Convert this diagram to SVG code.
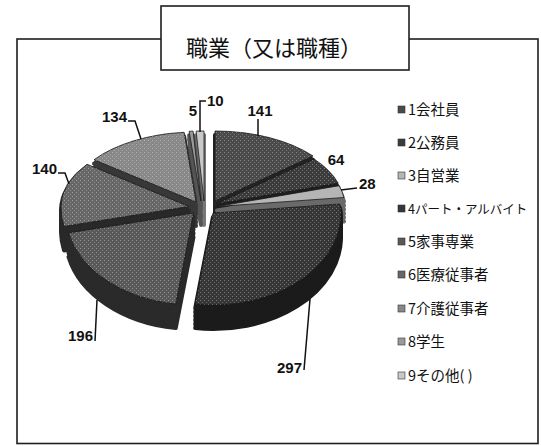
<svg xmlns="http://www.w3.org/2000/svg" xmlns:xlink="http://www.w3.org/1999/xlink" width="541" height="446" viewBox="0 0 541 446">
<style>
.frame{fill:none;stroke:#1e1e1e;stroke-width:1.6}
.tbox{fill:#fff;stroke:#1e1e1e;stroke-width:1.6}
.title{font-family:"Noto Sans CJK JP","Noto Sans CJK SC",sans-serif;font-size:22px;fill:#111}
.num{font-family:"Liberation Sans Narrow","Liberation Sans",sans-serif;font-weight:bold;font-size:15px;fill:#111}
.leg{font-family:"Noto Sans CJK JP","Noto Sans CJK SC",sans-serif;font-size:14.5px;fill:#111}
.legs{font-size:12.5px}
.lead{fill:none;stroke:#111;stroke-width:1.5}
.wall{stroke-width:4;stroke-linejoin:round}
.top{stroke:#1a1a1a;stroke-width:0.8;stroke-linejoin:round}
.tex{fill:url(#dots);stroke:none}
.mk{stroke:#333;stroke-width:0.6}
.c1{fill:#4a4a4a}.w1{fill:#242424;stroke:#242424}
.c2{fill:#3b3b3b}.w2{fill:#1e1e1e;stroke:#1e1e1e}
.c3{fill:#b5b5b5}.w3{fill:#6a6a6a;stroke:#6a6a6a}
.c4{fill:#363636}.w4{fill:#1b1b1b;stroke:#1b1b1b}
.c5{fill:#595959}.w5{fill:#2a2a2a;stroke:#2a2a2a}
.c6{fill:#676767}.w6{fill:#292929;stroke:#292929}
.c7{fill:#888}.w7{fill:#383838;stroke:#383838}
.c8{fill:#9a9a9a}.w8{fill:#555;stroke:#555}
.c9{fill:#c8c8c8}.w9{fill:#777;stroke:#777}
</style>
<defs>
<pattern id="dots" width="4" height="4" patternUnits="userSpaceOnUse">
<rect x="0" y="0" width="1" height="1" fill="#fff" opacity="0.35"/>
<rect x="2" y="2" width="1" height="1" fill="#fff" opacity="0.25"/>
</pattern>
<path id="p1" d="M215,201 L215,131 A128,70 0 0 1 313.06,156.01 Z"/>
<path id="p2" d="M216,204 L314.06,159.01 A128,70 0 0 1 338.21,183.2 Z"/>
<path id="p3" d="M217,206.5 L339.21,185.7 A128,70 0 0 1 343.95,197.53 Z"/>
<path id="p4" d="M213,213 L339.95,204.03 A128,70 0 0 1 341,213 A128,92 0 0 1 195.23,304.11 Z"/>
<path id="p5" d="M193.5,213 L175.73,304.11 A128,92 0 0 1 68.53,232.91 Z"/>
<path id="p6" d="M189,206.5 L64.03,226.41 A128,92 0 0 1 61,206.5 A128,70 0 0 1 87,164.23 Z"/>
<path id="p7" d="M196,202 L94,159.73 A128,70 0 0 1 184.13,132.3 Z"/>
<path id="p8" d="M201,201 L189.13,131.3 A128,70 0 0 1 193.08,131.13 Z"/>
<path id="p9" d="M204,201 L196.08,131.13 A128,70 0 0 1 204,131 Z"/>
</defs>
<rect x="0" y="0" width="541" height="446" fill="#fff"/>
<rect class="frame" x="17" y="39" width="521" height="404.5"/>
<g id="title">
<rect class="tbox" x="161" y="6" width="248" height="64"/>
<text class="title" x="186" y="56">職業（又は職種）</text>
</g>
<g id="slice-10">
<use xlink:href="#p9" class="wall w9" transform="translate(0,24)"/><use xlink:href="#p9" class="wall w9" transform="translate(0,16)"/><use xlink:href="#p9" class="wall w9" transform="translate(0,8)"/><use xlink:href="#p9" class="wall w9" transform="translate(0,4)"/>
<use xlink:href="#p9" class="top c9"/>
</g>
<g id="slice-5">
<use xlink:href="#p8" class="wall w8" transform="translate(0,24)"/><use xlink:href="#p8" class="wall w8" transform="translate(0,16)"/><use xlink:href="#p8" class="wall w8" transform="translate(0,8)"/><use xlink:href="#p8" class="wall w8" transform="translate(0,4)"/>
<use xlink:href="#p8" class="top c8"/>
</g>
<g id="slice-141">
<use xlink:href="#p1" class="wall w1" transform="translate(0,24)"/><use xlink:href="#p1" class="wall w1" transform="translate(0,20)"/><use xlink:href="#p1" class="wall w1" transform="translate(0,16)"/><use xlink:href="#p1" class="wall w1" transform="translate(0,12)"/><use xlink:href="#p1" class="wall w1" transform="translate(0,8)"/><use xlink:href="#p1" class="wall w1" transform="translate(0,4)"/>
<use xlink:href="#p1" class="top c1"/><use xlink:href="#p1" class="tex"/>
</g>
<g id="slice-134">
<use xlink:href="#p7" class="wall w7" transform="translate(0,24)"/><use xlink:href="#p7" class="wall w7" transform="translate(0,20)"/><use xlink:href="#p7" class="wall w7" transform="translate(0,16)"/><use xlink:href="#p7" class="wall w7" transform="translate(0,12)"/><use xlink:href="#p7" class="wall w7" transform="translate(0,8)"/><use xlink:href="#p7" class="wall w7" transform="translate(0,4)"/>
<use xlink:href="#p7" class="top c7"/><use xlink:href="#p7" class="tex"/>
</g>
<g id="slice-64">
<use xlink:href="#p2" class="wall w2" transform="translate(0,24)"/><use xlink:href="#p2" class="wall w2" transform="translate(0,20)"/><use xlink:href="#p2" class="wall w2" transform="translate(0,16)"/><use xlink:href="#p2" class="wall w2" transform="translate(0,12)"/><use xlink:href="#p2" class="wall w2" transform="translate(0,8)"/><use xlink:href="#p2" class="wall w2" transform="translate(0,4)"/>
<use xlink:href="#p2" class="top c2"/><use xlink:href="#p2" class="tex"/>
</g>
<g id="slice-140">
<use xlink:href="#p6" class="wall w6" transform="translate(0,24)"/><use xlink:href="#p6" class="wall w6" transform="translate(0,20)"/><use xlink:href="#p6" class="wall w6" transform="translate(0,16)"/><use xlink:href="#p6" class="wall w6" transform="translate(0,12)"/><use xlink:href="#p6" class="wall w6" transform="translate(0,8)"/><use xlink:href="#p6" class="wall w6" transform="translate(0,4)"/>
<use xlink:href="#p6" class="top c6"/><use xlink:href="#p6" class="tex"/>
</g>
<g id="slice-28">
<use xlink:href="#p3" class="wall w3" transform="translate(0,24)"/><use xlink:href="#p3" class="wall w3" transform="translate(0,20)"/><use xlink:href="#p3" class="wall w3" transform="translate(0,16)"/><use xlink:href="#p3" class="wall w3" transform="translate(0,12)"/><use xlink:href="#p3" class="wall w3" transform="translate(0,8)"/><use xlink:href="#p3" class="wall w3" transform="translate(0,4)"/>
<use xlink:href="#p3" class="top c3"/>
</g>
<g id="slice-196">
<use xlink:href="#p5" class="wall w5" transform="translate(0,24)"/><use xlink:href="#p5" class="wall w5" transform="translate(0,20)"/><use xlink:href="#p5" class="wall w5" transform="translate(0,16)"/><use xlink:href="#p5" class="wall w5" transform="translate(0,12)"/><use xlink:href="#p5" class="wall w5" transform="translate(0,8)"/><use xlink:href="#p5" class="wall w5" transform="translate(0,4)"/>
<use xlink:href="#p5" class="top c5"/><use xlink:href="#p5" class="tex"/>
</g>
<g id="slice-297">
<use xlink:href="#p4" class="wall w4" transform="translate(0,24)"/><use xlink:href="#p4" class="wall w4" transform="translate(0,20)"/><use xlink:href="#p4" class="wall w4" transform="translate(0,16)"/><use xlink:href="#p4" class="wall w4" transform="translate(0,12)"/><use xlink:href="#p4" class="wall w4" transform="translate(0,8)"/><use xlink:href="#p4" class="wall w4" transform="translate(0,4)"/>
<use xlink:href="#p4" class="top c4"/><use xlink:href="#p4" class="tex"/>
</g>
<g id="connectors">
<polyline class="lead" points="258,119 258,136"/>
<polyline class="lead" points="341,190 357,188"/>
<polyline class="lead" points="304,370 310,299"/>
<polyline class="lead" points="95,341 97,300"/>
<polyline class="lead" points="58,173 65,173 69,184"/>
<polyline class="lead" points="128,121 135,121 141,139"/>
<polyline class="lead" points="206,101 200,101 200,132"/>
</g>
<g id="data-labels">
<text class="num" x="260" y="116" text-anchor="middle">141</text>
<text class="num" x="336" y="165" text-anchor="middle">64</text>
<text class="num" x="359" y="189">28</text>
<text class="num" x="302" y="373" text-anchor="end">297</text>
<text class="num" x="93" y="341" text-anchor="end">196</text>
<text class="num" x="57" y="174" text-anchor="end">140</text>
<text class="num" x="127" y="122" text-anchor="end">134</text>
<text class="num" x="193" y="116" text-anchor="middle">5</text>
<text class="num" x="207" y="106">10</text>
</g>
<g id="legend">
<g id="leg1"><rect class="mk c1" x="398" y="106" width="7" height="7"/><text class="leg" x="408" y="115">1会社員</text></g>
<g id="leg2"><rect class="mk c2" x="398" y="139" width="7" height="7"/><text class="leg" x="408" y="148">2公務員</text></g>
<g id="leg3"><rect class="mk c3" x="398" y="172" width="7" height="7"/><text class="leg" x="408" y="181">3自営業</text></g>
<g id="leg4"><rect class="mk c4" x="398" y="205" width="7" height="7"/><text class="leg legs" x="408" y="214">4パート・アルバイト</text></g>
<g id="leg5"><rect class="mk c5" x="398" y="238" width="7" height="7"/><text class="leg" x="408" y="247">5家事専業</text></g>
<g id="leg6"><rect class="mk c6" x="398" y="271" width="7" height="7"/><text class="leg" x="408" y="280">6医療従事者</text></g>
<g id="leg7"><rect class="mk c7" x="398" y="305" width="7" height="7"/><text class="leg" x="408" y="314">7介護従事者</text></g>
<g id="leg8"><rect class="mk c8" x="398" y="338" width="7" height="7"/><text class="leg" x="408" y="347">8学生</text></g>
<g id="leg9"><rect class="mk c9" x="398" y="372" width="7" height="7"/><text class="leg" x="408" y="381">9その他( )</text></g>
</g>
</svg>
